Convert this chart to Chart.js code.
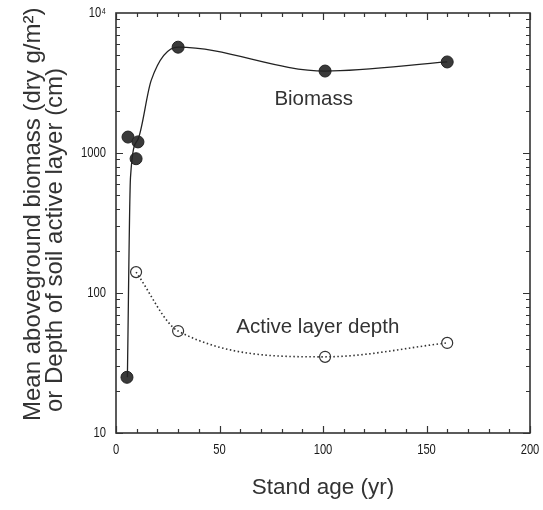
<!DOCTYPE html>
<html>
<head>
<meta charset="utf-8">
<script src="https://cdn.jsdelivr.net/npm/chart.js@4"></script>
<style>
  body { margin: 0; background: #fff; }
</style>
</head>
<body>
<canvas id="chart" width="543" height="510"></canvas>
<script>
// measured points (stand age in yr)
const biomassAge = [5.3, 5.8, 9.7, 10.6, 30, 101, 160];
const biomassValues = [25, 1300, 910, 1200, 5700, 3850, 4470];
const depthAge = [9.7, 30, 101, 160];
const depthValues = [141, 53.5, 35, 44];

// hand-drawn fit curves
const biomassCurveAge = [5.5, 7, 10.6, 17, 30, 101, 160];
const biomassCurveValues = [25, 670, 1250, 3300, 5700, 3850, 4470];
const depthCurveAge = [9.7, 30, 101, 160];
const depthCurveValues = [141, 53.5, 35, 44];

const xTicks = [0, 50, 100, 150, 200];
const yTickValues = [10, 100, 1000, 10000];
const yTickLabels = ["10", "100", "1000", "10\u2074"];

const seriesLabels = ["Biomass", "Active layer depth"];
const labelAge = [95.5, 97.5];
const labelValues = [2400, 57];

const yTitleLines = ["Mean aboveground biomass (dry g/m\u00b2)", "or Depth of soil active layer (cm)"];

const textFont = "'Liberation Sans', Arial, sans-serif";

function pts(xs, ys) {
    return xs.map((v, i) => ({x: v, y: ys[i]}));
}

// tick labels in the figure use a condensed face
function narrowText(ctx, t, px, py, align) {
    ctx.save();
    ctx.translate(px, py);
    ctx.scale(0.8, 1);
    ctx.textAlign = align;
    ctx.fillText(t, 0, 0);
    ctx.restore();
}

const frameTicks = {
    id: 'frameTicks',
    afterDraw(chart) {
        const {ctx, chartArea: a, scales: {x, y}} = chart;
        ctx.save();
        ctx.strokeStyle = '#333';
        ctx.lineWidth = 1.6;
        ctx.strokeRect(a.left, a.top, a.right - a.left, a.bottom - a.top);
        ctx.lineWidth = 1.2;
        ctx.beginPath();
        for (let v = 0; v <= 200; v += 10) {
            const px = Math.round(x.getPixelForValue(v)) + 0.5;
            const len = v % 50 === 0 ? 7 : 4;
            ctx.moveTo(px, a.bottom); ctx.lineTo(px, a.bottom - len);
            ctx.moveTo(px, a.top); ctx.lineTo(px, a.top + len);
        }
        for (let d = 10; d < 10000; d *= 10) {
            for (let m = 1; m <= 9; m++) {
                const py = Math.round(y.getPixelForValue(d * m)) + 0.5;
                const len = m === 1 ? 7 : 4;
                ctx.moveTo(a.left, py); ctx.lineTo(a.left + len, py);
                ctx.moveTo(a.right, py); ctx.lineTo(a.right - len, py);
            }
        }
        ctx.stroke();

        // tick labels
        ctx.fillStyle = '#1a1a1a';
        ctx.font = "14px " + textFont;
        ctx.textBaseline = 'middle';
        x.ticks.forEach(t => {
            narrowText(ctx, String(t.value), x.getPixelForValue(t.value), a.bottom + 17, 'center');
        });
        y.ticks.forEach(t => {
            const i = yTickValues.indexOf(t.value);
            if (i >= 0) narrowText(ctx, yTickLabels[i], a.left - 10, y.getPixelForValue(t.value), 'right');
        });

        // y title, two lines starting from the bottom
        ctx.fillStyle = '#333';
        ctx.font = "24px " + textFont;
        ctx.textAlign = 'left';
        ctx.textBaseline = 'middle';
        const starts = [[33, 421], [55, 412]];
        yTitleLines.forEach((t, i) => {
            ctx.save();
            ctx.translate(starts[i][0], starts[i][1]);
            ctx.rotate(-Math.PI / 2);
            ctx.fillText(t, 0, 0);
            ctx.restore();
        });
        ctx.restore();
    },
    afterDatasetsDraw(chart) {
        const {ctx, scales: {x, y}} = chart;
        ctx.save();
        ctx.fillStyle = '#333';
        ctx.font = "20.5px " + textFont;
        ctx.textAlign = 'center';
        ctx.textBaseline = 'middle';
        seriesLabels.forEach((t, i) => {
            ctx.fillText(t, x.getPixelForValue(labelAge[i]), y.getPixelForValue(labelValues[i]));
        });
        ctx.restore();
    }
};

new Chart(document.getElementById("chart"), {
    type: 'scatter',
    data: {
        datasets: [{
            label: "Biomass fit",
            data: pts(biomassCurveAge, biomassCurveValues),
            showLine: true,
            borderColor: '#222',
            borderWidth: 1.3,
            pointRadius: 0,
            cubicInterpolationMode: 'monotone',
        }, {
            label: "Depth fit",
            data: pts(depthCurveAge, depthCurveValues),
            showLine: true,
            borderColor: '#333',
            borderWidth: 1.6,
            borderDash: [1.5, 2.5],
            pointRadius: 0,
            cubicInterpolationMode: 'monotone',
        }, {
            label: "Biomass",
            data: pts(biomassAge, biomassValues),
            pointRadius: 6,
            backgroundColor: '#3a3a3a',
            borderColor: '#222',
            borderWidth: 1,
        }, {
            label: "Active layer depth",
            data: pts(depthAge, depthValues),
            pointRadius: 5.5,
            backgroundColor: '#fff',
            borderColor: '#333',
            borderWidth: 1.2,
        }],
    },
    options: {
        responsive: false,
        animation: false,
        layout: { padding: { top: 13, right: 13, left: 0, bottom: 0 } },
        plugins: {
            legend: { display: false },
            tooltip: { enabled: false },
        },
        scales: {
            x: {
                type: 'linear',
                position: 'bottom',
                min: 0,
                max: 200,
                afterBuildTicks: s => { s.ticks = xTicks.map(v => ({value: v})); },
                afterFit: s => { s.height = 77; },
                grid: { display: false },
                border: { display: false },
                ticks: { display: false },
                title: {
                    display: true,
                    text: "Stand age (yr)",
                    color: '#333',
                    font: { family: textFont, size: 22.5, lineHeight: 1 },
                    padding: { top: 0, bottom: 11 },
                },
            },
            y: {
                type: 'logarithmic',
                min: 10,
                max: 10000,
                afterBuildTicks: s => { s.ticks = yTickValues.map(v => ({value: v})); },
                afterFit: s => { s.width = 116; },
                grid: { display: false },
                border: { display: false },
                ticks: { display: false },
                title: { display: false },
            },
        },
    },
    plugins: [frameTicks],
});
</script>
</body>
</html>
